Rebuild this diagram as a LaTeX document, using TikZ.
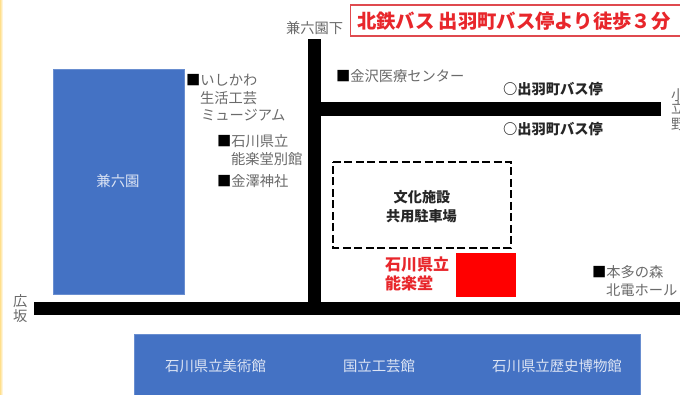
\documentclass[tikz,border=0pt]{standalone}
\usepackage{fontspec}
\setmainfont{Noto Sans CJK JP}
\usetikzlibrary{shadings}
\definecolor{blk}{HTML}{4472C4}
\definecolor{rd}{HTML}{FF0000}
\definecolor{lab}{HTML}{6A6A6A}
\definecolor{dk}{HTML}{262626}
\definecolor{ttl}{HTML}{E8262B}
\definecolor{bord}{HTML}{DF4A4F}
\definecolor{pale}{HTML}{DCE4F4}
\newcommand{\sq}{{\color{black}■}}
\tikzset{
  x=0.75pt,y=-0.75pt,
  txt/.style={inner sep=0pt,outer sep=0pt,font=\fontsize{10.7pt}{13pt}\selectfont},
  lbl/.style={txt,text=lab,anchor=west},
  inblue/.style={txt,text=pale,font=\fontsize{10.8pt}{13pt}\selectfont},
  busstop/.style={txt,text=dk,anchor=west,font=\fontsize{10.7pt}{13pt}\selectfont\bfseries},
  park/.style={txt,text=dk,font=\fontsize{10.6pt}{13pt}\selectfont\bfseries},
  redlab/.style={txt,text=ttl,anchor=west,font=\fontsize{12pt}{14pt}\selectfont\bfseries},
  road/.style={fill=black,draw=none},
  block/.style={fill=blk,draw=blk!80!white,line width=0.4pt},
}
\begin{document}
\begin{tikzpicture}
\useasboundingbox (0,0) rectangle (680,395);
\clip (0,0) rectangle (680,395);
\fill[white] (0,0) rectangle (680,395);
\fill[left color=yellow!45!orange!45!white,right color=white] (0,0) rectangle (3,395);
% blocks
\path[block] (53,69) rectangle (184,294);
\path[block] (134,334) rectangle (640,395);
% roads
\path[road] (308,39) rectangle (321,302);
\path[road] (321,102) rectangle (661,116);
\path[road] (34,302) rectangle (680,315);
% parking
\draw[black,line width=1.8pt,dash pattern=on 6pt off 2.6pt] (333,162) -- (511,162) -- (511,248) -- (333,248) -- cycle;
% theatre
\fill[rd] (456,253) rectangle (516,297);
% title
\node[draw=bord,line width=1pt,fill=white,minimum width=340*0.75pt,minimum height=31*0.75pt,inner sep=0pt,anchor=west] (titlebox) at (350,20.5) {};
\node[txt,text=ttl,anchor=west,font=\fontsize{14.5pt}{17pt}\selectfont\bfseries] (title) at (357,21.5) {北鉄バス 出羽町バス停より徒歩３分};
% labels
\node[lbl] (kenrokuenshita) at (286,28) {兼六園下};
\node[lbl] (ishikawa) at (186,80) {\sq いしかわ};
\node[lbl] (seikatsu) at (200,98) {生活工芸};
\node[lbl] (museum) at (201,115) {ミュージアム};
\node[lbl] (nogaku) at (217,141) {\sq 石川県立};
\node[lbl] (bekkan) at (231,159) {能楽堂別館};
\node[lbl] (jinja) at (217,181) {\sq 金澤神社};
\node[lbl] (iryo) at (336,76) {\sq 金沢医療センター};
\node[busstop] (stopa) at (503,89) {○出羽町バス停};
\node[busstop] (stopb) at (503,129) {○出羽町バス停};
\node[lbl] (ko) at (671,95) {小};
\node[lbl] (ritsu) at (671,108) {立};
\node[lbl] (no) at (671,124) {野};
\node[park] (bunka) at (422,197) {文化施設};
\node[park] (kyoyo) at (421.5,216) {共用駐車場};
\node[redlab] (red1) at (385,264) {石川県立};
\node[redlab] (red2) at (385,283) {能楽堂};
\node[lbl] (honda) at (592,272) {\sq 本多の森};
\node[lbl] (hokuden) at (606,290) {北電ホール};
\node[lbl] (hiro) at (13,301) {広};
\node[lbl] (saka) at (13,316) {坂};
\node[inblue] (kenrokuen) at (118,181) {兼六園};
\node[inblue] (bijutsu) at (215.5,366) {石川県立美術館};
\node[inblue] (kogei) at (379,366) {国立工芸館};
\node[inblue] (rekishi) at (557,366) {石川県立歴史博物館};
\end{tikzpicture}
\end{document}
